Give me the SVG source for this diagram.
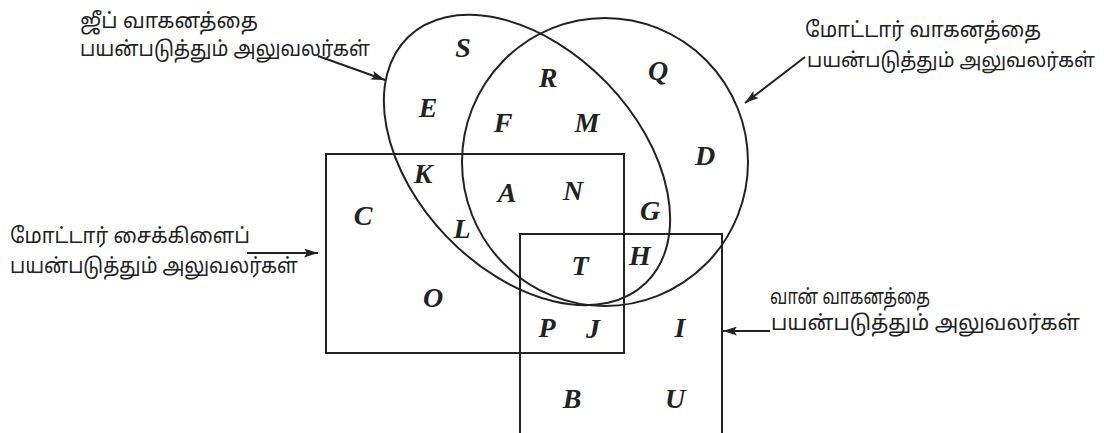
<svg xmlns="http://www.w3.org/2000/svg" width="1104" height="433" viewBox="0 0 1104 433">
<defs>
<marker id="ah" viewBox="0 0 14 9" refX="14" refY="4.5" markerWidth="14" markerHeight="9" markerUnits="userSpaceOnUse" orient="auto">
<path d="M0,0 L14,4.5 L0,9 L3,4.5 Z" fill="#222"/>
</marker>
</defs>
<style>
.set{fill:none;stroke:#222;stroke-width:2}
.el{font-family:"Liberation Serif","Times New Roman",serif;font-style:italic;font-weight:bold;font-size:28px;fill:#222;text-anchor:middle}
.ta{font-family:"Noto Sans Tamil","Lohit Tamil","Noto Sans",sans-serif;font-size:21px;fill:#222}
.arr{fill:none;stroke:#222;stroke-width:2;marker-end:url(#ah)}
</style>
<rect width="1104" height="433" fill="#fff"/>
<g id="jeep">
<ellipse class="set" cx="527" cy="160" rx="171" ry="111" transform="rotate(46 527 160)"/>
<text class="ta" x="80" y="28" textLength="178" lengthAdjust="spacingAndGlyphs">ஜீப் வாகனத்தை</text>
<text class="ta" x="80" y="56" textLength="290" lengthAdjust="spacingAndGlyphs">பயன்படுத்தும் அலுவலர்கள்</text>
</g>
<g id="motor-vehicle">
<ellipse class="set" cx="605" cy="162" rx="143" ry="144"/>
<text class="ta" x="805" y="37" textLength="236" lengthAdjust="spacingAndGlyphs">மோட்டார் வாகனத்தை</text>
<text class="ta" x="807" y="67" textLength="288" lengthAdjust="spacingAndGlyphs" style="font-size:20px">பயன்படுத்தும் அலுவலர்கள்</text>
</g>
<g id="motorcycle">
<rect class="set" x="326" y="154" width="298" height="199"/>
<text class="ta" x="10" y="243" textLength="240" lengthAdjust="spacingAndGlyphs">மோட்டார் சைக்கிளைப்</text>
<text class="ta" x="10" y="273" textLength="288" lengthAdjust="spacingAndGlyphs">பயன்படுத்தும் அலுவலர்கள்</text>
</g>
<g id="van">
<path class="set" d="M520,440 V234 H722 V440"/>
<text class="ta" x="770" y="304" textLength="160" lengthAdjust="spacingAndGlyphs">வான் வாகனத்தை</text>
<text class="ta" x="771" y="330" textLength="309" lengthAdjust="spacingAndGlyphs">பயன்படுத்தும் அலுவலர்கள்</text>
</g>
<g id="elements">
<text class="el" x="463" y="57">S</text>
<text class="el" x="548" y="87">R</text>
<text class="el" x="658" y="80">Q</text>
<text class="el" x="428" y="117">E</text>
<text class="el" x="503" y="132">F</text>
<text class="el" x="587" y="132">M</text>
<text class="el" x="705" y="165">D</text>
<text class="el" x="423" y="183">K</text>
<text class="el" x="507" y="202">A</text>
<text class="el" x="573" y="200">N</text>
<text class="el" x="650" y="220">G</text>
<text class="el" x="363" y="225">C</text>
<text class="el" x="462" y="238">L</text>
<text class="el" x="640" y="265">H</text>
<text class="el" x="580" y="275">T</text>
<text class="el" x="433" y="307">O</text>
<text class="el" x="547" y="337">P</text>
<text class="el" x="593" y="338">J</text>
<text class="el" x="680" y="337">I</text>
<text class="el" x="572" y="408">B</text>
<text class="el" x="675" y="408">U</text>
</g>
<g id="connectors">
<path class="arr" d="M318,56 L385,80"/>
<path class="arr" d="M805,57 L745,103"/>
<path class="arr" d="M247,253 L318,253"/>
<path class="arr" d="M770,331 L723,331"/>
</g>
</svg>
